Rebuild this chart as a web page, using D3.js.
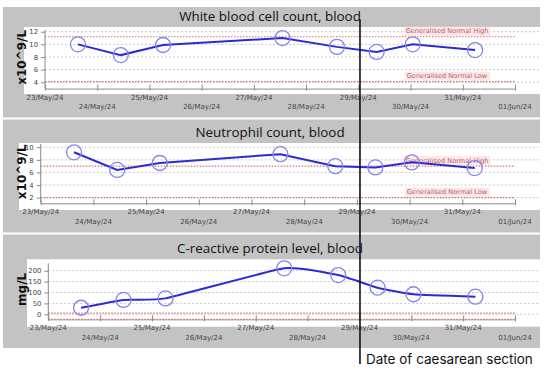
<!DOCTYPE html>
<html><head><meta charset="utf-8">
<script src="https://cdn.jsdelivr.net/npm/d3@7"></script>
<style>html,body{margin:0;padding:0;background:#fff;}svg{display:block;}</style>
</head><body>
<svg id="chart" width="550" height="373"></svg>
<script>
// ---- data ----
const sampleTimes = ["2024-05-23T15:10","2024-05-24T10:50","2024-05-25T06:15","2024-05-27T13:10","2024-05-28T14:10","2024-05-29T08:25","2024-05-30T01:00","2024-05-31T05:40"];
const wbcValues = [10.0, 8.3, 9.9, 11.0, 9.6, 8.8, 10.0, 9.1];
const neutValues = [9.2, 6.4, 7.5, 8.9, 7.0, 6.8, 7.6, 6.7];
const crpValues = [30, 66, 73, 211, 180, 122, 92, 81];
const dayTicks = ["2024-05-23","2024-05-24","2024-05-25","2024-05-26","2024-05-27","2024-05-28","2024-05-29","2024-05-30","2024-05-31","2024-06-01"];
const wbcTicks = [4, 6, 8, 10, 12];
const neutTicks = [2, 4, 6, 8, 10];
const crpTicks = [0, 50, 100, 150, 200];
const wbcNormal = [4.1, 11.2];
const neutNormal = [2.0, 7.0];
const crpNormal = [-23.4, 5];
const titles = ["White blood cell count, blood", "Neutrophil count, blood", "C-reactive protein level, blood"];
const units = ["x10^9/L", "x10^9/L", "mg/L"];
const normalLabels = ["Generalised Normal Low", "Generalised Normal High"];
const caesareanDate = "2024-05-29T00:15";
const caesareanLabel = "Date of caesarean section";

const parse = d3.isoParse;
const fmt = d3.timeFormat("%d/%b/%y");
const svg = d3.select("#chart");

const panels = [
  {values: wbcValues, ticks: wbcTicks, normal: wbcNormal, showNormalText: true, curve: d3.curveLinear,
   top: 7, bottom: 117.5, plotTop: 27, plotBottom: 94, plotLeft: 24, x0: 45, x1: 515, yDom: [3, 12.27], yRange: [88.6, 30], titleY: 21, unitX: 22},
  {values: neutValues, ticks: neutTicks, normal: neutNormal, showNormalText: true, curve: d3.curveLinear,
   top: 119.5, bottom: 232.5, plotTop: 143, plotBottom: 210, plotLeft: 19, x0: 40.7, x1: 515, yDom: [1.1, 10.5], yRange: [203.3, 144.1], titleY: 136.5, unitX: 22},
  {values: crpValues, ticks: crpTicks, normal: crpNormal, showNormalText: false, curve: d3.curveCardinal.tension(0.55),
   top: 234.5, bottom: 348, plotTop: 259.3, plotBottom: 326.7, plotLeft: 27, x0: 48.3, x1: 515, yDom: [-23.4, 234], yRange: [319.4, 263.3], titleY: 252.5, unitX: 22}
];

const grayFill = "#c3c3c3";
let lastX;
panels.forEach((p, i) => {
  const g = svg.append("g");
  g.append("rect").attr("x", 3).attr("y", p.top).attr("width", 537).attr("height", p.bottom - p.top).attr("fill", grayFill);
  g.append("rect").attr("x", p.plotLeft).attr("y", p.plotTop).attr("width", 540 - p.plotLeft).attr("height", p.plotBottom - p.plotTop).attr("fill", "#fff");

  const x = d3.scaleTime().domain([parse(dayTicks[0]), parse(dayTicks[dayTicks.length - 1])]).range([p.x0, p.x1]);
  const y = d3.scaleLinear().domain(p.yDom).range(p.yRange);
  lastX = x;
  const axisY = p.yRange[0];

  // gridlines
  g.selectAll(".grid").data(p.ticks).join("line")
    .attr("x1", p.x0).attr("x2", 540).attr("y1", d => y(d)).attr("y2", d => y(d))
    .attr("stroke", "#c8c8c8").attr("stroke-width", 1).attr("stroke-dasharray", "2,2");

  // normal lines
  g.selectAll(".norm").data(p.normal).join("line")
    .attr("x1", p.x0).attr("x2", p.x1).attr("y1", d => y(d)).attr("y2", d => y(d))
    .attr("stroke", "#d07070").attr("stroke-width", 1.2).attr("stroke-dasharray", "1.5,1.5");
  if (p.showNormalText) {
    p.normal.forEach((v, k) => {
      const tx = 447, ty = y(v) - 5.5;
      const t = g.append("text").attr("x", tx).attr("y", ty).attr("text-anchor", "middle").attr("dominant-baseline", "central")
        .attr("font-family", "DejaVu Sans, Verdana, sans-serif").attr("font-size", 6.6).attr("fill", "#b86060").text(normalLabels[k]);
      const bb = t.node().getBBox();
      g.insert("rect", () => t.node()).attr("x", bb.x - 2).attr("y", bb.y - 0.5).attr("width", bb.width + 4).attr("height", bb.height + 1).attr("fill", "#fbe6e8");
    });
  }

  // y axis
  const yAxis = d3.axisLeft(y).tickValues(p.ticks).tickSize(4).tickPadding(3);
  const ya = g.append("g").attr("transform", `translate(${p.x0},0)`).call(yAxis);
  ya.select(".domain").attr("stroke", "#8a8a8a").attr("d", `M0,${p.yRange[1]}V${axisY}`);
  ya.selectAll(".tick line").attr("stroke", "#8a8a8a");
  ya.selectAll(".tick text").attr("font-family", "DejaVu Sans, Verdana, sans-serif").attr("font-size", 6.8).attr("fill", "#444");

  // x axis
  const dates = dayTicks.map(parse);
  const xAxis = d3.axisBottom(x).tickValues(dates).tickSize(0).tickFormat("");
  const xa = g.append("g").attr("transform", `translate(0,${axisY})`).call(xAxis);
  xa.select(".domain").attr("stroke", i === 2 ? "#c89090" : "#8a8a8a");
  xa.selectAll(".tick line").attr("y1", -4).attr("y2", 2).attr("stroke", "#8a8a8a");
  g.selectAll(".xl").data(dates).join("text")
    .attr("x", d => x(d)).attr("y", (d, k) => axisY + (k % 2 === 0 ? 9 : 18.5))
    .attr("text-anchor", "middle").attr("dominant-baseline", "central")
    .attr("font-family", "DejaVu Sans, Verdana, sans-serif").attr("font-size", 7).attr("fill", "#444")
    .text(d => fmt(d));

  // title
  g.append("text").attr("x", 270).attr("y", p.titleY).attr("text-anchor", "middle")
    .attr("font-family", "Open Sans, Noto Sans, sans-serif").attr("font-size", 13.4).attr("fill", "#111").text(titles[i]);
  // unit
  const ucy = (p.yRange[0] + p.yRange[1]) / 2 - 2;
  g.append("text").attr("transform", `translate(${p.unitX},${ucy}) rotate(-90)`).attr("text-anchor", "middle").attr("dominant-baseline", "central")
    .attr("font-family", "DejaVu Sans, Verdana, sans-serif").attr("font-weight", "bold").attr("font-size", 12).attr("fill", "#111").text(units[i]);

  // series
  const pts = sampleTimes.map((t, k) => ({t: parse(t), v: p.values[k]}));
  const line = d3.line().x(d => x(d.t)).y(d => y(d.v)).curve(p.curve);
  g.append("path").datum(pts).attr("d", line).attr("fill", "none").attr("stroke", "#2b2bd6").attr("stroke-width", 2);
  g.selectAll(".pt").data(pts).join("circle").attr("cx", d => x(d.t)).attr("cy", d => y(d.v)).attr("r", 7.5)
    .attr("fill", "none").attr("stroke", "#8585e8").attr("stroke-width", 1.3);
});

// caesarean marker
const cx = lastX(parse(caesareanDate));
svg.append("line").attr("x1", cx).attr("x2", cx).attr("y1", 19.5).attr("y2", 364).attr("stroke", "#111").attr("stroke-width", 1.6);
svg.append("text").attr("x", cx + 6).attr("y", 364).attr("font-family", "Inter, Roboto, sans-serif").attr("font-size", 13.5).attr("fill", "#111").text(caesareanLabel);
</script>
</body></html>
